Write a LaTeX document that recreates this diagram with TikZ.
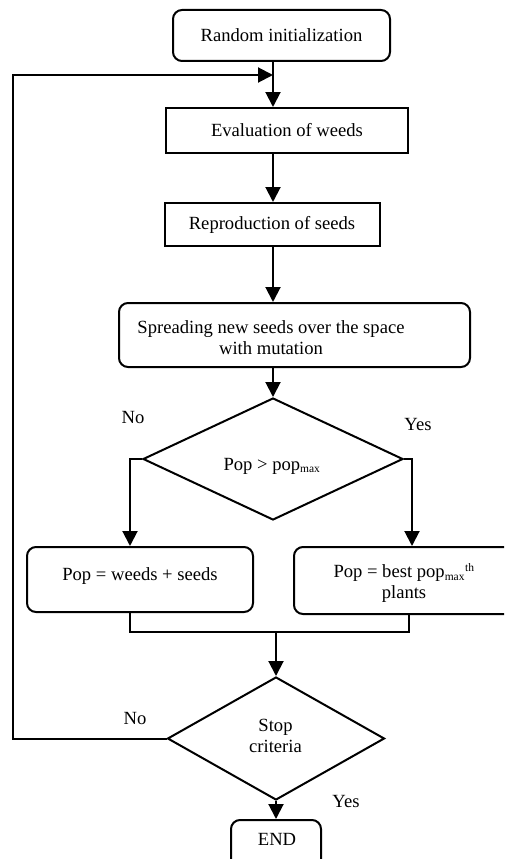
\documentclass[tikz,border=0pt]{standalone}
\usepackage{fontspec}
\setmainfont{Liberation Serif}
\usetikzlibrary{arrows.meta,shapes.geometric}
\begin{document}
\begin{tikzpicture}[x=1pt,y=-1pt,
  every node/.style={font=\fontsize{18.6}{21}\selectfont},
  ln/.style={line width=2pt},
  rbox/.style={draw,line width=2pt,rounded corners=9pt,inner sep=0pt},
  sbox/.style={draw,line width=2pt,inner sep=0pt},
  dia/.style={draw,line width=2pt,diamond,inner sep=0pt},
  txt/.style={inner sep=0pt,align=center},
  arr/.style={line width=2pt,-{Triangle[width=15pt,length=15pt]}},
  lbl/.style={inner sep=0pt}]
\useasboundingbox (0,0) rectangle (504,859);
\clip (0,0) rectangle (504,859);
\node[rbox,minimum width=217pt,minimum height=51pt] (init) at (281.5,35.5) {Random initialization};
\node[sbox,minimum width=242pt,minimum height=45pt] (eval) at (287,130.5) {Evaluation of weeds};
\node[sbox,minimum width=215pt,minimum height=43pt] (repro) at (272,224.5) {Reproduction of seeds};
\node[rbox,minimum width=351pt,minimum height=64pt] (spread) at (294.5,335) {};
\node[txt] (spreadtxt) at (271,338) {Spreading new seeds over the space\\with mutation};
\node[dia,minimum width=260pt,minimum height=122pt] (d1) at (273,459) {};
\node[txt] (d1txt) at (272,466) {Pop > pop\textsubscript{\fontsize{11.5}{11}\selectfont max}};
\node[rbox,minimum width=226pt,minimum height=65pt] (left) at (140,579.5) {};
\node[txt] (lefttxt) at (140,576) {Pop = weeds + seeds};
\node[rbox,minimum width=220pt,minimum height=67pt] (right) at (404,580.5) {};
\node[txt] (righttxt) at (404,583) {Pop = best pop\textsubscript{\fontsize{11.5}{11}\selectfont max}\textsuperscript{\fontsize{11.5}{11}\selectfont th}\\plants};
\node[dia,minimum width=217pt,minimum height=123pt] (d2) at (276,738.5) {};
\node[txt] (d2txt) at (275.5,736) {Stop\\criteria};
\node[rbox,minimum width=90pt,minimum height=60pt,anchor=north] (end) at (276,819) {};
\node[txt] (endtxt) at (277,839) {END};
\node[lbl] (no1) at (133,417) {No};
\node[lbl] (yes1) at (418,424) {Yes};
\node[lbl] (no2) at (135,718) {No};
\node[lbl] (yes2) at (346,801) {Yes};
\coordinate (loopin) at (273,75);
\coordinate (merge) at (276,632);
% arrows
\draw[arr] (init.south -| loopin) -- (eval.north -| loopin);
\draw[arr] (eval.south -| loopin) -- (repro.north -| loopin);
\draw[arr] (repro.south -| loopin) -- (spread.north -| loopin);
\draw[arr] (spread.south -| loopin) -- (d1.north);
\draw[arr] (d1.west) -- (130,459) -- (left.north -| 130,0);
\draw[arr] (d1.east) -- (412,459) -- (right.north -| 412,0);
\draw[ln] (left.south -| 130,0) -- (130,632) -- (409,632) -- (right.south -| 409,0);
\draw[arr] (merge) -- (d2.north);
\draw[arr] (d2.south) -- (end.north);
\draw[arr] (d2.west) -- (13,738.5) -- (13,75) -- (loopin);
\end{tikzpicture}
\end{document}
